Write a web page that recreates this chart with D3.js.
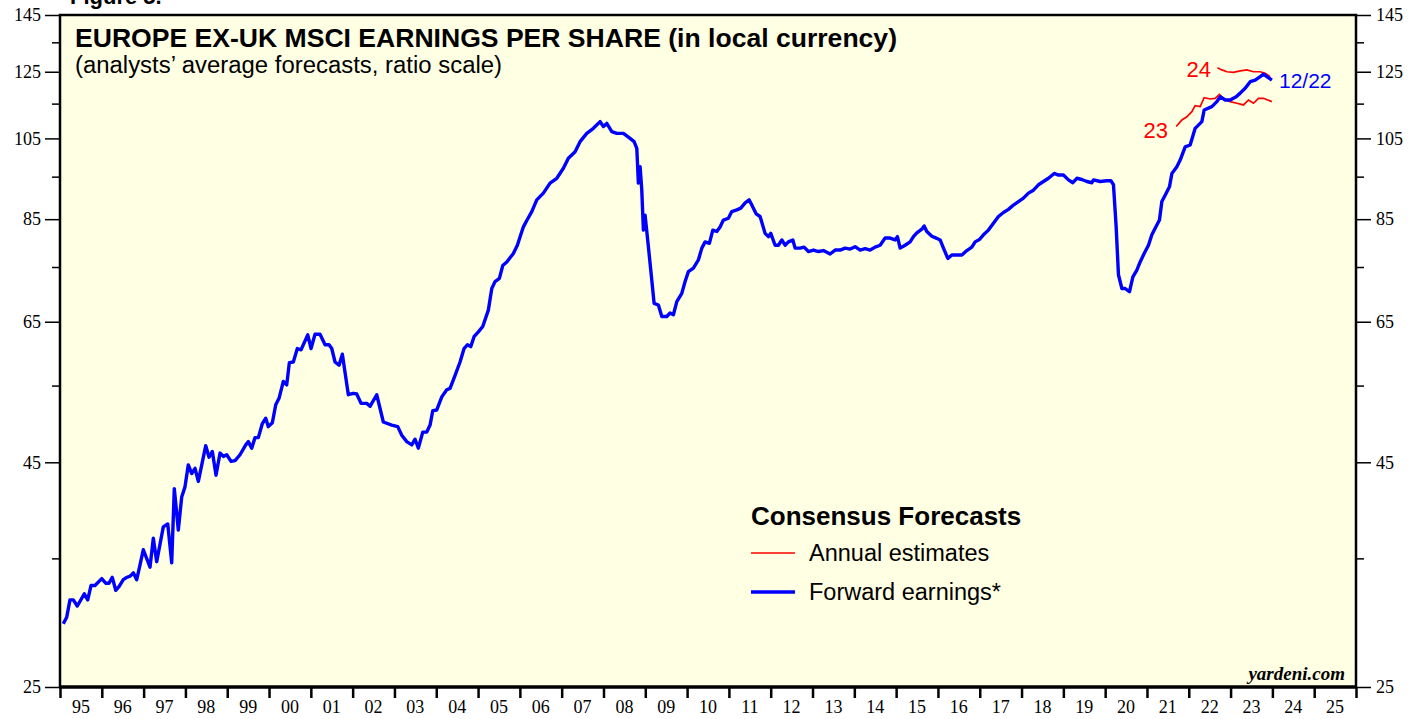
<!DOCTYPE html>
<html><head><meta charset="utf-8">
<script src="https://cdn.jsdelivr.net/npm/d3@7"></script>
<style>
html,body{margin:0;padding:0;background:#fff;}
svg{display:block;}
</style></head>
<body><svg id="c" width="1426" height="719"></svg>
<script>
// ---- data (decimal year, EPS in local currency) ----
const fwdDates = [1995.079,1995.160,1995.239,1995.318,1995.414,1995.581,1995.663,1995.742,1995.837,1995.998,
1996.093,1996.172,1996.251,1996.333,1996.411,1996.514,1996.596,1996.675,1996.754,1996.835,1996.914,1996.993,
1997.153,1997.232,1997.313,1997.471,1997.577,1997.672,1997.734,1997.830,1997.911,1997.990,
1998.069,1998.151,1998.230,1998.309,1998.486,1998.565,1998.644,1998.732,1998.828,1998.907,1998.988,
1999.091,1999.187,1999.306,1999.443,1999.505,1999.586,1999.665,1999.744,1999.840,1999.921,1999.983,
2000.079,2000.160,2000.239,2000.342,2000.423,2000.486,2000.581,2000.677,2000.766,2000.926,
2001.005,2001.100,2001.220,2001.340,2001.435,2001.500,2001.579,2001.675,2001.754,2001.897,
2002.017,2002.098,2002.201,2002.337,2002.416,2002.576,2002.734,2002.935,
2003.079,2003.175,2003.294,2003.414,2003.493,2003.572,2003.677,2003.773,2003.852,2003.916,
2004.012,2004.132,2004.251,2004.330,2004.450,2004.569,2004.665,2004.744,2004.825,2004.904,
2005.007,2005.112,2005.246,2005.328,2005.407,2005.510,2005.591,2005.687,2005.844,2005.940,
2006.021,2006.084,2006.165,2006.285,2006.404,2006.562,2006.722,2006.883,
2007.041,2007.160,2007.321,2007.440,2007.600,2007.758,2007.919,2007.998,
2008.079,2008.199,2008.318,2008.476,2008.636,2008.732,2008.797,2008.835,2008.876,2008.916,2008.955,2008.995,
2009.074,2009.155,2009.211,2009.313,2009.395,2009.514,2009.593,2009.672,2009.754,2009.873,2009.952,
2010.031,2010.151,2010.270,2010.352,2010.431,2010.533,2010.615,2010.710,2010.789,2010.868,2010.988,
2011.069,2011.189,2011.285,2011.388,2011.483,2011.548,2011.651,2011.746,2011.866,2011.945,
2012.002,2012.105,2012.184,2012.266,2012.344,2012.423,2012.529,2012.584,2012.703,2012.799,2012.902,
2013.022,2013.141,2013.261,2013.421,2013.541,2013.660,2013.780,2013.900,
2014.019,2014.139,2014.258,2014.378,2014.498,2014.617,2014.737,2014.856,2014.976,
2015.031,2015.096,2015.215,2015.335,2015.414,2015.495,2015.615,2015.670,2015.734,2015.854,2015.957,
2016.053,2016.132,2016.237,2016.333,2016.452,2016.572,2016.691,2016.811,2016.890,2016.993,
2017.089,2017.208,2017.328,2017.447,2017.567,2017.687,2017.806,2017.926,
2018.045,2018.165,2018.285,2018.404,2018.524,2018.644,2018.780,2018.883,
2019.002,2019.122,2019.227,2019.323,2019.442,2019.562,2019.682,2019.720,2019.880,
2020.041,2020.136,2020.199,2020.263,2020.318,2020.400,2020.478,2020.581,2020.663,2020.758,2020.837,2020.933,
2021.036,2021.117,2021.196,2021.299,2021.356,2021.435,2021.538,2021.596,2021.715,2021.794,2021.914,
2022.033,2022.153,2022.313,2022.368,2022.552,2022.672,2022.751,2022.871,2022.990,
2023.134,2023.230,2023.349,2023.469,2023.589,2023.708,2023.787,2023.868,2023.988];
const fwdValues = [29.5,30.0,31.4,31.4,30.9,31.9,31.4,32.6,32.6,33.2,
32.8,32.8,33.3,32.2,32.5,33.1,33.3,33.4,33.7,33.1,34.4,35.8,
34.2,36.9,34.7,38.0,38.3,34.6,42.0,37.7,41.1,42.2,
44.7,43.7,44.3,42.8,47.0,45.6,46.3,43.5,46.1,45.7,45.9,
45.1,45.2,45.9,47.1,47.5,46.7,48.0,48.0,49.8,50.5,49.4,
49.9,52.3,53.2,55.6,55.1,58.4,58.5,60.6,60.4,62.8,
60.6,62.9,62.9,61.2,61.2,60.6,58.5,58.0,59.7,53.7,
53.9,53.8,52.5,52.5,52.1,53.7,50.0,49.6,
49.4,48.3,47.5,47.1,47.8,46.7,48.7,48.7,49.6,51.5,
51.6,53.4,54.4,54.6,56.5,58.5,60.6,61.2,60.9,62.5,
63.3,64.2,67.0,70.9,72.2,72.8,75.3,76.0,77.7,79.4,
81.6,83.3,84.7,86.7,89.4,91.0,93.4,94.6,
97.1,99.7,101.4,104.1,106.4,107.8,109.7,108.3,
109.2,106.9,106.4,106.4,105.0,104.1,102.3,93.4,97.5,91.7,82.6,85.9,
79.1,72.5,68.2,67.9,65.9,65.9,66.5,66.2,68.5,70.0,72.2,
74.1,74.8,76.4,78.8,80.1,79.8,82.6,82.3,83.3,84.8,85.2,
86.7,87.1,87.5,88.7,89.4,88.2,86.2,85.6,81.9,81.2,
81.9,79.4,79.4,80.5,79.4,80.1,80.5,78.8,78.8,79.0,78.1,
78.4,78.1,78.3,77.6,78.4,78.4,78.8,78.6,
79.1,78.4,78.7,78.4,79.0,79.4,80.9,80.9,80.5,
81.2,78.8,79.4,80.1,81.2,82.0,82.8,83.5,82.3,81.3,80.9,
80.5,78.8,76.7,77.4,77.4,77.4,78.3,79.0,80.1,80.6,
81.6,82.6,84.1,85.6,86.5,87.2,88.2,89.0,
89.8,91.0,91.7,93.0,93.8,94.6,95.8,95.4,
95.4,94.2,93.5,94.6,94.3,93.8,93.5,94.2,93.8,
94.0,94.0,93.0,83.3,73.5,70.9,70.9,70.3,73.1,74.4,76.0,77.7,
79.4,81.6,83.0,84.8,89.0,90.5,92.5,95.8,97.5,99.2,102.7,
103.2,107.8,109.7,113.1,114.1,115.6,117.1,116.1,116.1,
117.1,118.2,119.7,121.8,122.3,123.4,124.2,123.4,122.3];

const est23Dates = [2021.699,2021.835,2021.955,2022.074,2022.153,2022.273,2022.368,2022.512,2022.632,2022.734,
2022.830,2022.990,2023.151,2023.309,2023.428,2023.548,2023.667,2023.787,2023.988];
const est23Values = [108.3,110.2,111.1,112.6,114.4,114.1,116.8,116.4,116.6,117.8,
116.6,115.6,115.1,114.6,116.1,115.1,116.6,116.6,115.6];

const est24Dates = [2022.686,2022.792,2022.911,2023.069,2023.230,2023.390,2023.548,2023.708,2023.828,2023.947];
const est24Values = [126.3,125.6,125.0,124.8,125.3,125.6,125.0,125.0,124.5,123.4];

const yearTicks = d3.range(1995, 2027);
const yearLabels = ["95","96","97","98","99","00","01","02","03","04","05","06","07","08","09","10",
"11","12","13","14","15","16","17","18","19","20","21","22","23","24","25"];
const yMajor = [25,45,65,85,105,125,145];
const yMinor = [35,55,75,95,115,135];

// ---- layout ----
const L = 60, R = 1356, T = 15, B = 687;
const svg = d3.select("#c");
const x = d3.scaleLinear().domain([1995, 2026]).range([L, R]);
const y = d3.scaleLog().domain([25, 145]).range([B, T]);
const sans = "Liberation Sans, Arial, Helvetica, sans-serif";
const serif = "Liberation Serif, Times New Roman, serif";

svg.append("rect").attr("x", L).attr("y", T).attr("width", R - L).attr("height", B - T)
  .attr("fill", "#ffffe4");

// cut-off figure caption at very top (as in the source image)
svg.append("text").attr("x", 70).attr("y", 4).attr("font-family", sans)
  .attr("font-weight", "bold").attr("font-size", 22).text("Figure 5.");

// axes
function styleAxis(g) {
  g.select(".domain").remove();
  g.selectAll("line").attr("stroke", "#000").attr("stroke-width", 1.5);
  g.selectAll("text").attr("font-family", serif).attr("font-size", 18).attr("fill", "#000");
}
const leftMaj = svg.append("g").attr("transform", `translate(${L},0)`)
  .call(d3.axisLeft(y).tickValues(yMajor).tickSize(15).tickPadding(4).tickFormat(d3.format("d")));
styleAxis(leftMaj);
const leftMin = svg.append("g").attr("transform", `translate(${L},0)`)
  .call(d3.axisLeft(y).tickValues(yMinor).tickSize(8).tickFormat(""));
styleAxis(leftMin);
const rightMaj = svg.append("g").attr("transform", `translate(${R},0)`)
  .call(d3.axisRight(y).tickValues(yMajor).tickSize(15).tickPadding(5).tickFormat(d3.format("d")));
styleAxis(rightMaj);
const rightMin = svg.append("g").attr("transform", `translate(${R},0)`)
  .call(d3.axisRight(y).tickValues(yMinor).tickSize(8).tickFormat(""));
styleAxis(rightMin);
const bottom = svg.append("g").attr("transform", `translate(0,${B})`)
  .call(d3.axisBottom(x).tickValues(yearTicks).tickSize(11).tickFormat(""));
styleAxis(bottom);
bottom.selectAll("line").attr("stroke-width", 2.5);
svg.append("g").selectAll("text").data(yearLabels).join("text")
  .attr("x", (d, i) => x(1995 + i + 0.5)).attr("y", 713)
  .attr("text-anchor", "middle").attr("font-family", serif)
  .attr("font-size", 18).text(d => d);

// lines
const line = d3.line().x(d => x(d[0])).y(d => y(d[1]));
const fwd = fwdDates.map((d, i) => [d, fwdValues[i]]);
const e23 = est23Dates.map((d, i) => [d, est23Values[i]]);
const e24 = est24Dates.map((d, i) => [d, est24Values[i]]);
svg.append("path").datum(e23).attr("d", line).attr("fill", "none").attr("stroke", "#ff0000").attr("stroke-width", 1.7);
svg.append("path").datum(e24).attr("d", line).attr("fill", "none").attr("stroke", "#ff0000").attr("stroke-width", 1.7);
svg.append("path").datum(fwd).attr("d", line).attr("fill", "none").attr("stroke", "#0000ff")
  .attr("stroke-width", 3.4).attr("stroke-linejoin", "round");

// frame
svg.append("path").attr("d", `M${L},${B}V${T}H${R}V${B}`).attr("fill", "none").attr("stroke", "#000").attr("stroke-width", 2.5);
svg.append("line").attr("x1", L - 1).attr("x2", R + 1).attr("y1", B).attr("y2", B).attr("stroke", "#000").attr("stroke-width", 3.5);

// titles
svg.append("text").attr("x", 75).attr("y", 47).attr("font-family", sans).attr("font-weight", "bold")
  .attr("font-size", 26).attr("textLength", 822).attr("lengthAdjust", "spacingAndGlyphs")
  .text("EUROPE EX-UK MSCI EARNINGS PER SHARE (in local currency)");
svg.append("text").attr("x", 75).attr("y", 73).attr("font-family", sans)
  .attr("font-size", 23).attr("textLength", 427).attr("lengthAdjust", "spacingAndGlyphs")
  .text("(analysts\u2019 average forecasts, ratio scale)");

// series labels
svg.append("text").attr("x", 1211).attr("y", 77).attr("text-anchor", "end")
  .attr("font-family", sans).attr("font-size", 22).attr("fill", "#ff0000").text("24");
svg.append("text").attr("x", 1168).attr("y", 138).attr("text-anchor", "end")
  .attr("font-family", sans).attr("font-size", 22).attr("fill", "#ff0000").text("23");
svg.append("text").attr("x", 1279).attr("y", 88)
  .attr("font-family", sans).attr("font-size", 21).attr("fill", "#0000ff").text("12/22");

// legend
svg.append("text").attr("x", 751).attr("y", 525).attr("font-family", sans).attr("font-weight", "bold")
  .attr("font-size", 26).text("Consensus Forecasts");
svg.append("line").attr("x1", 751).attr("x2", 795).attr("y1", 553).attr("y2", 553).attr("stroke", "#ff0000").attr("stroke-width", 1.7);
svg.append("text").attr("x", 809).attr("y", 561).attr("font-family", sans).attr("font-size", 23.5).text("Annual estimates");
svg.append("line").attr("x1", 751).attr("x2", 795).attr("y1", 592).attr("y2", 592).attr("stroke", "#0000ff").attr("stroke-width", 3.4);
svg.append("text").attr("x", 809).attr("y", 600).attr("font-family", sans).attr("font-size", 23.5).text("Forward earnings*");

svg.append("text").attr("x", 1345).attr("y", 680).attr("text-anchor", "end")
  .attr("font-family", serif).attr("font-weight", "bold").attr("font-style", "italic")
  .attr("font-size", 19).text("yardeni.com");
</script></body></html>
